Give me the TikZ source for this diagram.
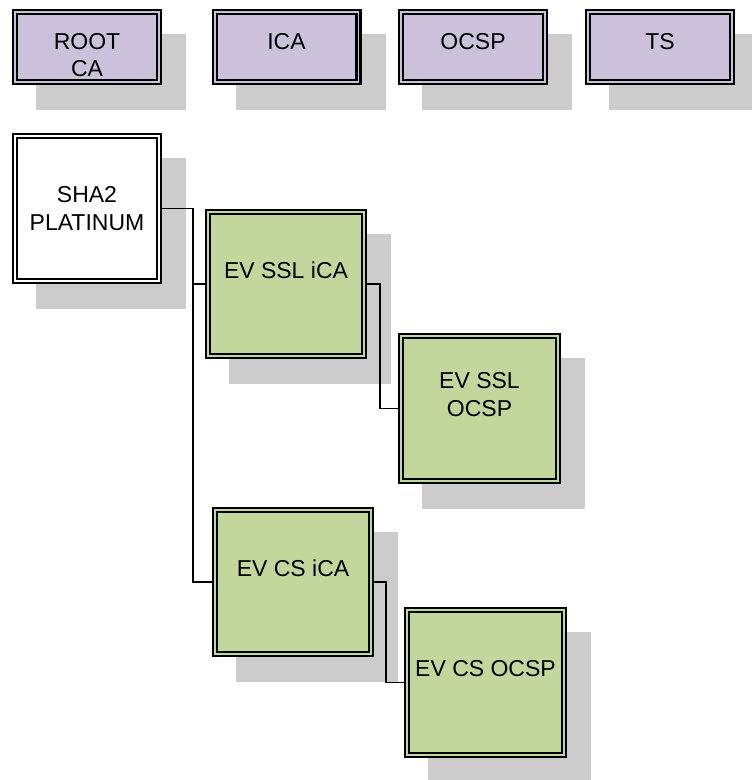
\documentclass[tikz,border=0pt]{standalone}
\usepackage{fontspec}
\setmainfont{Liberation Sans}

\definecolor{rolepurple}{RGB}{204,193,218}
\definecolor{certgreen}{RGB}{195,214,155}
\definecolor{shadowgray}{RGB}{204,204,204}

\pgfdeclarelayer{background}
\pgfsetlayers{background,main}

\tikzset{
    certbox/.style={draw=black, line width=2.2pt, double distance=1.8pt,
        outer sep=3.1pt, inner sep=0pt},
    rolebox/.style={certbox, fill=rolepurple, double=rolepurple,
        minimum width=143.8pt, minimum height=69.8pt},
    rootbox/.style={certbox, fill=white, double=white,
        minimum width=143.8pt, minimum height=144.8pt},
    issuebox/.style={certbox, fill=certgreen, double=certgreen,
        minimum width=156.3pt, minimum height=144.3pt},
    boxtext/.style={inner sep=0pt, align=center,
        font=\fontsize{23}{27.6}\selectfont},
    link/.style={draw=black, line width=1.6pt},
}

\begin{document}
\begin{tikzpicture}[x=1pt, y=-1pt]
\useasboundingbox (0,0) rectangle (752,780);

% Role boxes along the top row
\foreach \n/\cx/\lbl in {root/87/{ROOT\\CA}, ica/286.5/ICA, ocsp/473/OCSP, ts/660/TS} {
    \node[rolebox] (\n) at (\cx,47) {};
    \node[boxtext, anchor=north] (\n-txt) at ([yshift=-24pt]\n.north) {\lbl};
}

% Root of the hierarchy
\node[rootbox] (sha2) at (87,208.5) {};
\node[boxtext] (sha2-txt) at (sha2.center) {SHA2\\PLATINUM};

% Issuing CAs and their responders
\foreach \n/\cx/\cy/\lbl in {sslica/286/284/{EV SSL iCA}, sslocsp/479.5/408.5/{EV SSL\\OCSP},
                             csica/293/582/{EV CS iCA}, csocsp/485.5/682.5/{EV CS OCSP}} {
    \node[issuebox] (\n) at (\cx,\cy) {};
    \node[boxtext] (\n-txt) at ([yshift=14pt]\n.center) {\lbl};
}

% Drop shadows behind every box
\begin{pgfonlayer}{background}
\foreach \n in {root,ica,ocsp,ts,sha2,sslica,sslocsp,csica,csocsp} {
    \fill[shadowgray] ([shift={(24,25)}]\n.north west) rectangle ([shift={(24,25)}]\n.south east);
}
\end{pgfonlayer}

% Connectors
\coordinate (trunk) at (193,0);
\draw[link] (sha2.east) -| (trunk |- csica.west) -- (csica.west);
\draw[link] (trunk |- sslica.west) -- (sslica.west);
\draw[link] (sslica.east) -- ++(13,0) |- (sslocsp.west);
\draw[link] (csica.east) -- ++(12,0) |- (csocsp.west);
\end{tikzpicture}
\end{document}
